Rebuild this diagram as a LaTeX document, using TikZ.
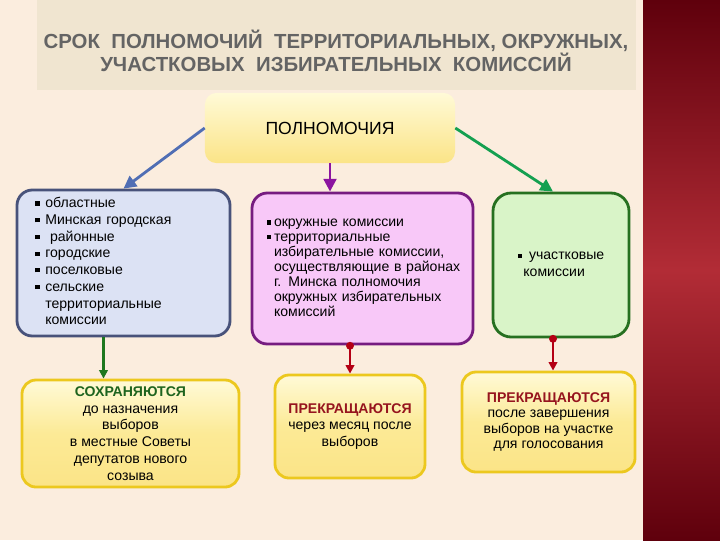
\documentclass[tikz,border=0pt]{standalone}
\usepackage{fontspec}
\setmainfont{Liberation Sans}
\usetikzlibrary{arrows.meta, positioning, shapes.geometric}
\definecolor{bgcream}{RGB}{251,237,222}
\definecolor{bandbeige}{RGB}{240,229,208}
\definecolor{titlegray}{RGB}{100,100,100}
\definecolor{stripdark}{RGB}{95,0,12}
\definecolor{stripmid}{RGB}{178,44,54}
\definecolor{ylight}{RGB}{255,250,215}
\definecolor{ymid}{RGB}{252,234,150}
\definecolor{ydeep}{RGB}{251,228,135}
\definecolor{ygold}{RGB}{236,200,30}
\definecolor{oblfill}{RGB}{220,226,244}
\definecolor{obldraw}{RGB}{72,82,122}
\definecolor{okrfill}{RGB}{248,200,248}
\definecolor{okrdraw}{RGB}{118,28,128}
\definecolor{uchfill}{RGB}{217,244,200}
\definecolor{uchdraw}{RGB}{38,112,32}
\definecolor{arrblue}{RGB}{80,110,180}
\definecolor{arrgreen}{RGB}{20,160,80}
\definecolor{arrpurple}{RGB}{140,20,160}
\definecolor{arrdkgreen}{RGB}{30,120,30}
\definecolor{arrred}{RGB}{180,0,20}
\definecolor{txtred}{RGB}{150,20,30}
\definecolor{txtgreen}{RGB}{30,100,30}
\newcommand{\sqbul}{\raisebox{1.6pt}{\rule{3pt}{3pt}}}
\tikzset{
  catbox/.style={
    rectangle, rounded corners=11pt, line width=2pt,
    draw=#1draw, fill=#1fill, font=\fontsize{10}{11.9}\selectfont
  },
  resbox/.style={
    rectangle, rounded corners=10pt, line width=2pt, inner ysep=1pt,
    draw=ygold, top color=ylight, bottom color=ydeep, middle color=ymid,
    align=center, font=\fontsize{10}{12}\selectfont
  },
  powarrow/.style={-{Triangle[length=9pt,width=9pt]}, line width=2pt, color=#1},
  downarrow/.style={-{Triangle[length=6pt,width=6pt]}, line width=1.5pt, color=#1},
  endarrow/.style={{Circle[length=5.5pt]}-{Triangle[length=6pt,width=6pt]},
    line width=1.8pt, color=arrred},
}
\begin{document}
\begin{tikzpicture}[x=0.025cm, y=-0.025cm]
  \useasboundingbox (0,0) rectangle (720,540);
  \fill[bgcream] (0,0) rectangle (720,540);
  \shade[top color=stripdark, bottom color=stripdark, middle color=stripmid]
        (643,0) rectangle (720,540);
  \fill[bandbeige] (37,0) rectangle (636,90);
  \node[font=\fontsize{14.5}{14.5}\selectfont\bfseries, text=titlegray, align=center]
        (title) at (336,51)
        {СРОК\ \ ПОЛНОМОЧИЙ\ \ ТЕРРИТОРИАЛЬНЫХ,\ ОКРУЖНЫХ,\\
         УЧАСТКОВЫХ\ \ ИЗБИРАТЕЛЬНЫХ\ \ КОМИССИЙ};
  \node[rectangle, rounded corners=8pt, top color=ylight, bottom color=ydeep,
        minimum width=6.25cm, minimum height=1.75cm,
        font=\fontsize{12.5}{14}\selectfont] (pow) at (330,128) {ПОЛНОМОЧИЯ};
  \node[catbox=obl, minimum width=5.325cm, minimum height=3.65cm,
        text width=4.4cm, inner xsep=0.45cm, align=left] (obl) at (123.5,263)
        {\begin{tabular}{@{}l@{\hspace{4pt}}l@{}}
          \sqbul & областные\\
          \sqbul & Минская городская\\
          \sqbul & \ районные\\
          \sqbul & городские\\
          \sqbul & поселковые\\
          \sqbul & сельские\\
                 & территориальные\\
                 & комиссии
         \end{tabular}};
  \node[catbox=okr, minimum width=5.525cm, minimum height=3.775cm,
        text width=4.775cm, inner xsep=0.375cm, align=left,
        font=\fontsize{10}{10.6}\selectfont] (okr) at (362.5,268.5)
        {\begin{tabular}{@{}l@{\hspace{2pt}}l@{}}
          \sqbul & окружные комиссии\\
          \sqbul & территориальные\\
                 & избирательные комиссии,\\
                 & осуществляющие в районах\\
                 & г. Минска полномочия\\
                 & окружных избирательных\\
                 & комиссий
         \end{tabular}};
  \node[catbox=uch, rounded corners=13pt, minimum width=3.4cm, minimum height=3.6cm]
        (uch) at (561,265)
        {\begin{tabular}{@{}l@{}}
          \sqbul\hspace{5pt}участковые\\
          \hspace{4pt}комиссии
         \end{tabular}};
  \node[resbox, minimum width=5.425cm, minimum height=2.675cm] (sokh) at (130.5,433.5)
        {\textbf{\textcolor{txtgreen}{СОХРАНЯЮТСЯ}}\\ до назначения\\ выборов\\
         в местные Советы\\ депутатов нового\\ созыва};
  \node[resbox, minimum width=3.75cm, minimum height=2.575cm] (prek1) at (350,426.5)
        {\textbf{\textcolor{txtred}{ПРЕКРАЩАЮТСЯ}}\\ через месяц после\\ выборов};
  \node[resbox, minimum width=4.325cm, minimum height=2.5cm,
        font=\fontsize{10}{10.9}\selectfont] (prek2) at (548.5,422)
        {\textbf{\textcolor{txtred}{ПРЕКРАЩАЮТСЯ}}\\ после завершения\\
         выборов на участке\\ для голосования};
  \draw[powarrow=arrblue] (pow.west) -- (obl.north);
  \draw[powarrow=arrpurple] (pow.south) -- (pow.south |- okr.north);
  \draw[powarrow=arrgreen] (pow.east) -- ([xshift=-0.2cm]uch.north);
  \draw[downarrow=arrdkgreen] ([xshift=-0.5cm]obl.south)
        -- ([xshift=-0.5cm]obl.south |- sokh.north);
  \draw[endarrow] ([yshift=2.5pt]prek1.north |- okr.south) -- (prek1.north);
  \draw[endarrow] ([xshift=-0.2cm,yshift=2.5pt]uch.south)
        -- ([xshift=-0.2cm]uch.south |- prek2.north);
\end{tikzpicture}
\end{document}
